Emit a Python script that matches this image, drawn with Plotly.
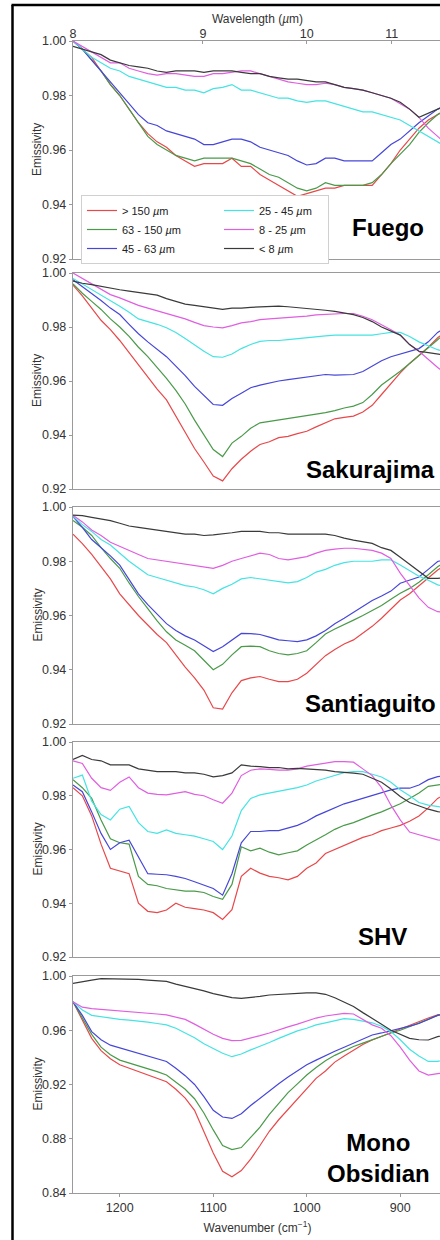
import plotly.graph_objects as go

# ---------------- data ----------------
wavenumber = [1250, 1240, 1230, 1220, 1210, 1200, 1190, 1180, 1170, 1160, 1150,
              1140, 1130, 1120, 1110, 1100, 1090, 1080, 1070, 1060, 1050,
              1040, 1030, 1020, 1010, 1000, 990, 980, 970, 960, 950,
              940, 930, 920, 910, 900, 890, 880, 870, 860, 850]
wavelength_ticks = [8, 9, 10, 11]

size_labels = ["&gt; 150 <i>µ</i>m", "63 - 150 <i>µ</i>m", "45 - 63 <i>µ</i>m",
               "25 - 45 <i>µ</i>m", "8 - 25 <i>µ</i>m", "&lt; 8 <i>µ</i>m"]
legend_ranks = [1, 3, 5, 2, 4, 6]
panel_names = ["Fuego", "Sakurajima", "Santiaguito", "SHV", "Mono<br>Obsidian"]

fuego_gt150 = [1.000, 0.997, 0.994, 0.989, 0.984, 0.980, 0.975, 0.970, 0.966, 0.963, 0.961,
               0.958, 0.956, 0.954, 0.955, 0.955, 0.955, 0.957, 0.954, 0.954, 0.951,
               0.949, 0.947, 0.945, 0.943, 0.944, 0.945, 0.946, 0.946, 0.947, 0.947,
               0.947, 0.947, 0.951, 0.955, 0.960, 0.964, 0.968, 0.971, 0.973, 0.975]
fuego_63_150 = [1.000, 0.997, 0.993, 0.989, 0.984, 0.980, 0.975, 0.970, 0.965, 0.962, 0.960,
                0.958, 0.957, 0.956, 0.957, 0.957, 0.957, 0.957, 0.956, 0.955, 0.953,
                0.951, 0.950, 0.948, 0.946, 0.945, 0.946, 0.948, 0.947, 0.947, 0.947,
                0.947, 0.948, 0.951, 0.955, 0.9585, 0.962, 0.9665, 0.970, 0.973, 0.975]
fuego_45_63 = [1.000, 0.997, 0.993, 0.989, 0.985, 0.981, 0.977, 0.973, 0.970, 0.969, 0.967,
               0.966, 0.965, 0.964, 0.962, 0.962, 0.963, 0.964, 0.964, 0.963, 0.961,
               0.960, 0.959, 0.958, 0.956, 0.9545, 0.955, 0.957, 0.957, 0.956, 0.956,
               0.956, 0.956, 0.959, 0.962, 0.964, 0.967, 0.970, 0.9725, 0.975, 0.977]
fuego_25_45 = [1.000, 0.997, 0.994, 0.992, 0.990, 0.989, 0.987, 0.986, 0.985, 0.984, 0.983,
               0.983, 0.982, 0.982, 0.981, 0.9825, 0.983, 0.984, 0.982, 0.982, 0.981,
               0.980, 0.979, 0.979, 0.978, 0.9775, 0.978, 0.978, 0.977, 0.976, 0.975,
               0.974, 0.974, 0.973, 0.972, 0.971, 0.969, 0.967, 0.965, 0.963, 0.961]
fuego_8_25 = [1.000, 0.998, 0.996, 0.994, 0.992, 0.992, 0.990, 0.989, 0.988, 0.9875, 0.988,
              0.988, 0.9875, 0.987, 0.987, 0.988, 0.988, 0.9885, 0.989, 0.989, 0.988,
              0.987, 0.986, 0.985, 0.9845, 0.984, 0.984, 0.9845, 0.984, 0.983, 0.9825,
              0.982, 0.981, 0.980, 0.979, 0.977, 0.975, 0.972, 0.968, 0.965, 0.962]
fuego_lt8 = [0.998, 0.997, 0.996, 0.995, 0.993, 0.992, 0.991, 0.9905, 0.990, 0.989, 0.9885,
             0.989, 0.989, 0.989, 0.9885, 0.989, 0.989, 0.989, 0.9885, 0.988, 0.988,
             0.987, 0.9865, 0.986, 0.986, 0.9855, 0.985, 0.985, 0.984, 0.983, 0.9825,
             0.982, 0.981, 0.980, 0.979, 0.9775, 0.975, 0.972, 0.9735, 0.975, 0.976]

sakura_gt150 = [0.9955, 0.9915, 0.987, 0.9825, 0.979, 0.975, 0.9705, 0.966, 0.9615, 0.957, 0.953,
                0.947, 0.9415, 0.935, 0.930, 0.9248, 0.923, 0.9275, 0.931, 0.934, 0.9365,
                0.9375, 0.939, 0.9395, 0.9405, 0.9414, 0.943, 0.9445, 0.946, 0.9465, 0.947,
                0.9485, 0.951, 0.955, 0.959, 0.963, 0.9665, 0.9695, 0.9725, 0.976, 0.9785]
sakura_63_150 = [0.996, 0.9925, 0.9895, 0.9865, 0.983, 0.980, 0.9765, 0.9725, 0.969, 0.965, 0.961,
                 0.9565, 0.9515, 0.9455, 0.940, 0.9346, 0.932, 0.937, 0.9395, 0.9425, 0.9445,
                 0.945, 0.9455, 0.946, 0.9465, 0.947, 0.9477, 0.9483, 0.949, 0.950, 0.9507,
                 0.952, 0.955, 0.9585, 0.961, 0.9636, 0.9665, 0.9695, 0.9725, 0.9753, 0.978]
sakura_45_63 = [0.9975, 0.995, 0.9925, 0.9898, 0.987, 0.9846, 0.981, 0.9775, 0.9745, 0.9718, 0.969,
                0.9655, 0.962, 0.958, 0.9545, 0.9513, 0.951, 0.9535, 0.9555, 0.9575, 0.9585,
                0.9593, 0.960, 0.9605, 0.961, 0.9615, 0.962, 0.9624, 0.9622, 0.9624, 0.9624,
                0.9635, 0.9655, 0.9675, 0.969, 0.970, 0.971, 0.972, 0.9745, 0.978, 0.980]
sakura_25_45 = [0.998, 0.996, 0.994, 0.992, 0.990, 0.9877, 0.9855, 0.983, 0.982, 0.981, 0.9797,
                0.978, 0.9757, 0.9733, 0.971, 0.969, 0.9688, 0.970, 0.972, 0.9735, 0.9747,
                0.975, 0.975, 0.9753, 0.9757, 0.976, 0.9765, 0.9767, 0.977, 0.977, 0.977,
                0.977, 0.977, 0.9775, 0.978, 0.978, 0.9765, 0.9745, 0.973, 0.9716, 0.9705]
sakura_8_25 = [1.000, 0.998, 0.996, 0.9938, 0.992, 0.9908, 0.9895, 0.988, 0.987, 0.986, 0.985,
               0.984, 0.983, 0.9817, 0.9805, 0.980, 0.9797, 0.9805, 0.9815, 0.982, 0.9827,
               0.983, 0.9832, 0.9834, 0.9838, 0.984, 0.9845, 0.9847, 0.9848, 0.985, 0.985,
               0.984, 0.9827, 0.981, 0.979, 0.977, 0.9735, 0.971, 0.968, 0.965, 0.9625]
sakura_lt8 = [0.997, 0.9962, 0.9957, 0.995, 0.9945, 0.9938, 0.9933, 0.9928, 0.9925, 0.9918, 0.9905,
              0.9895, 0.9885, 0.988, 0.9875, 0.987, 0.9865, 0.987, 0.987, 0.9873, 0.9875,
              0.9877, 0.9877, 0.9875, 0.9872, 0.987, 0.9866, 0.9862, 0.9858, 0.9852, 0.9846,
              0.9835, 0.982, 0.980, 0.9785, 0.977, 0.9735, 0.971, 0.9705, 0.970, 0.9695]

santi_gt150 = [0.990, 0.9865, 0.9825, 0.978, 0.9735, 0.968, 0.964, 0.960, 0.9565, 0.953, 0.950,
               0.9455, 0.941, 0.937, 0.9325, 0.926, 0.9255, 0.9315, 0.936, 0.937, 0.9375,
               0.9365, 0.9356, 0.9356, 0.9365, 0.9387, 0.942, 0.9452, 0.9475, 0.9495, 0.951,
               0.9535, 0.956, 0.959, 0.9625, 0.9657, 0.968, 0.971, 0.974, 0.9768, 0.979]
santi_63_150 = [0.995, 0.9925, 0.9895, 0.985, 0.981, 0.9774, 0.972, 0.967, 0.9625, 0.958, 0.954,
                0.951, 0.949, 0.947, 0.9435, 0.940, 0.942, 0.9455, 0.9485, 0.9487, 0.9485,
                0.947, 0.946, 0.9455, 0.946, 0.947, 0.950, 0.9532, 0.955, 0.9568, 0.9583,
                0.960, 0.9617, 0.9637, 0.966, 0.9682, 0.970, 0.9723, 0.975, 0.978, 0.980]
santi_45_63 = [0.9965, 0.9925, 0.988, 0.985, 0.982, 0.9786, 0.9735, 0.968, 0.964, 0.9605, 0.957,
               0.9545, 0.9525, 0.951, 0.9487, 0.9467, 0.9485, 0.951, 0.9534, 0.9533, 0.953,
               0.952, 0.951, 0.9507, 0.9504, 0.951, 0.9525, 0.9545, 0.957, 0.959, 0.9612,
               0.9635, 0.9655, 0.9672, 0.969, 0.9719, 0.973, 0.9742, 0.977, 0.9799, 0.981]
santi_25_45 = [0.9965, 0.9935, 0.991, 0.988, 0.986, 0.983, 0.980, 0.9775, 0.975, 0.974, 0.973,
               0.972, 0.971, 0.9705, 0.9695, 0.968, 0.970, 0.9715, 0.9735, 0.974, 0.9735,
               0.973, 0.9725, 0.972, 0.9725, 0.974, 0.976, 0.977, 0.9785, 0.9795, 0.980,
               0.980, 0.980, 0.9805, 0.9805, 0.9786, 0.9765, 0.9745, 0.973, 0.9713, 0.9705]
santi_8_25 = [0.997, 0.9945, 0.9915, 0.9895, 0.987, 0.9854, 0.984, 0.9825, 0.981, 0.9805, 0.980,
              0.9795, 0.979, 0.9786, 0.978, 0.9774, 0.9785, 0.980, 0.981, 0.982, 0.983,
              0.9825, 0.981, 0.9805, 0.981, 0.9817, 0.983, 0.984, 0.9845, 0.9848, 0.9848,
              0.9845, 0.984, 0.983, 0.981, 0.9756, 0.971, 0.9665, 0.963, 0.9614, 0.961]
santi_lt8 = [0.997, 0.9968, 0.9962, 0.9955, 0.995, 0.994, 0.993, 0.9925, 0.992, 0.9915, 0.991,
             0.9905, 0.990, 0.990, 0.9895, 0.9897, 0.990, 0.9905, 0.991, 0.991, 0.991,
             0.9905, 0.9905, 0.990, 0.990, 0.990, 0.9902, 0.990, 0.9895, 0.9885, 0.9878,
             0.9872, 0.9866, 0.985, 0.984, 0.9815, 0.979, 0.9765, 0.9737, 0.9737, 0.974]

shv_gt150 = [0.983, 0.980, 0.9725, 0.962, 0.953, 0.952, 0.951, 0.940, 0.937, 0.9365, 0.9375,
             0.940, 0.9385, 0.938, 0.9375, 0.9365, 0.934, 0.9376, 0.950, 0.953, 0.9512,
             0.950, 0.9495, 0.9487, 0.950, 0.953, 0.955, 0.9585, 0.960, 0.9615, 0.963,
             0.9645, 0.9655, 0.967, 0.968, 0.969, 0.9705, 0.9725, 0.9755, 0.979, 0.981]
shv_63_150 = [0.986, 0.983, 0.979, 0.971, 0.964, 0.9625, 0.962, 0.950, 0.947, 0.9465, 0.9455,
              0.945, 0.9445, 0.9445, 0.944, 0.9425, 0.9415, 0.947, 0.961, 0.9595, 0.9605,
              0.959, 0.958, 0.9588, 0.9595, 0.9617, 0.9635, 0.9655, 0.9675, 0.969, 0.970,
              0.9715, 0.9728, 0.974, 0.9755, 0.977, 0.979, 0.981, 0.9835, 0.984, 0.9845]
shv_45_63 = [0.984, 0.9815, 0.974, 0.966, 0.960, 0.9625, 0.9635, 0.957, 0.951, 0.9508, 0.9506,
             0.950, 0.9492, 0.948, 0.9468, 0.9455, 0.943, 0.951, 0.9625, 0.9667, 0.9667,
             0.967, 0.967, 0.968, 0.969, 0.9705, 0.9725, 0.974, 0.9755, 0.977, 0.978,
             0.979, 0.980, 0.981, 0.9822, 0.9828, 0.9828, 0.984, 0.986, 0.9871, 0.9875]
shv_25_45 = [0.9865, 0.9877, 0.978, 0.973, 0.971, 0.975, 0.976, 0.970, 0.9667, 0.966, 0.9673,
             0.966, 0.9655, 0.965, 0.964, 0.963, 0.960, 0.965, 0.9745, 0.979, 0.9803,
             0.981, 0.9815, 0.9822, 0.983, 0.984, 0.9855, 0.9865, 0.9875, 0.9886, 0.989,
             0.989, 0.988, 0.987, 0.985, 0.9822, 0.980, 0.9775, 0.9765, 0.976, 0.9755]
shv_8_25 = [0.993, 0.992, 0.9865, 0.983, 0.982, 0.985, 0.987, 0.983, 0.981, 0.9805, 0.9803,
            0.981, 0.9815, 0.9805, 0.980, 0.9785, 0.9772, 0.981, 0.9875, 0.9895, 0.990,
            0.9898, 0.9895, 0.9895, 0.990, 0.991, 0.9915, 0.992, 0.9927, 0.9927, 0.9925,
            0.990, 0.9875, 0.983, 0.9765, 0.971, 0.9665, 0.9655, 0.9645, 0.9636, 0.963]
shv_lt8 = [0.9935, 0.995, 0.9935, 0.993, 0.9915, 0.9915, 0.9915, 0.990, 0.9895, 0.989, 0.989,
           0.989, 0.9885, 0.9885, 0.988, 0.987, 0.9875, 0.9885, 0.9915, 0.991, 0.9908,
           0.9905, 0.9905, 0.990, 0.9902, 0.990, 0.9897, 0.9895, 0.989, 0.9888, 0.9884,
           0.988, 0.9865, 0.985, 0.9825, 0.9797, 0.9775, 0.9762, 0.975, 0.9741, 0.9735]

mono_gt150 = [0.981, 0.968, 0.954, 0.945, 0.939, 0.9345, 0.932, 0.9295, 0.927, 0.925, 0.922,
              0.9165, 0.910, 0.901, 0.8855, 0.8695, 0.856, 0.852, 0.8565, 0.865, 0.875,
              0.8855, 0.894, 0.9015, 0.909, 0.9165, 0.9245, 0.930, 0.9365, 0.941, 0.9455,
              0.9495, 0.9528, 0.9555, 0.9582, 0.961, 0.964, 0.9665, 0.969, 0.9713, 0.973]
mono_63_150 = [0.981, 0.969, 0.957, 0.9475, 0.942, 0.938, 0.936, 0.934, 0.932, 0.9295, 0.927,
               0.9215, 0.9165, 0.9095, 0.899, 0.8865, 0.875, 0.872, 0.8735, 0.881, 0.8885,
               0.898, 0.906, 0.914, 0.9205, 0.927, 0.9325, 0.9375, 0.9415, 0.945, 0.948,
               0.9505, 0.953, 0.956, 0.958, 0.960, 0.9625, 0.965, 0.968, 0.971, 0.9725]
mono_45_63 = [0.981, 0.971, 0.959, 0.953, 0.949, 0.947, 0.945, 0.9435, 0.9415, 0.9395, 0.937,
              0.932, 0.9265, 0.920, 0.911, 0.901, 0.896, 0.895, 0.8985, 0.9045, 0.910,
              0.915, 0.9205, 0.9255, 0.930, 0.9345, 0.938, 0.9415, 0.9445, 0.9475, 0.9505,
              0.9535, 0.9565, 0.958, 0.9595, 0.961, 0.963, 0.965, 0.968, 0.971, 0.9725]
mono_25_45 = [0.981, 0.975, 0.971, 0.970, 0.9685, 0.968, 0.9675, 0.967, 0.966, 0.965, 0.964,
              0.9615, 0.958, 0.9545, 0.950, 0.9465, 0.943, 0.9405, 0.9425, 0.9455, 0.948,
              0.951, 0.954, 0.957, 0.9595, 0.9615, 0.964, 0.9655, 0.967, 0.9685, 0.968,
              0.967, 0.9655, 0.963, 0.959, 0.953, 0.946, 0.941, 0.937, 0.937, 0.939]
mono_8_25 = [0.981, 0.977, 0.976, 0.9755, 0.975, 0.974, 0.9735, 0.973, 0.9725, 0.972, 0.9713,
             0.9695, 0.968, 0.9645, 0.9605, 0.957, 0.954, 0.9523, 0.9525, 0.954, 0.956,
             0.958, 0.9605, 0.9625, 0.9645, 0.967, 0.969, 0.9705, 0.9715, 0.9725, 0.972,
             0.968, 0.964, 0.9615, 0.956, 0.9475, 0.938, 0.930, 0.927, 0.928, 0.929]
mono_lt8 = [0.9945, 0.996, 0.997, 0.998, 0.998, 0.998, 0.998, 0.9975, 0.997, 0.9965, 0.996,
            0.994, 0.9925, 0.991, 0.989, 0.987, 0.9855, 0.984, 0.9835, 0.984, 0.985,
            0.986, 0.9865, 0.987, 0.9872, 0.9875, 0.9875, 0.9865, 0.984, 0.981, 0.9775,
            0.973, 0.969, 0.9645, 0.960, 0.957, 0.954, 0.953, 0.9528, 0.9553, 0.957]

panels = [
    [fuego_gt150, fuego_63_150, fuego_45_63, fuego_25_45, fuego_8_25, fuego_lt8],
    [sakura_gt150, sakura_63_150, sakura_45_63, sakura_25_45, sakura_8_25, sakura_lt8],
    [santi_gt150, santi_63_150, santi_45_63, santi_25_45, santi_8_25, santi_lt8],
    [shv_gt150, shv_63_150, shv_45_63, shv_25_45, shv_8_25, shv_lt8],
    [mono_gt150, mono_63_150, mono_45_63, mono_25_45, mono_8_25, mono_lt8],
]
y_ranges = [[0.92, 1.00], [0.92, 1.00], [0.92, 1.00], [0.92, 1.00], [0.84, 1.00]]
y_dticks = [0.02, 0.02, 0.02, 0.02, 0.04]
x_bottom_ticks = [1200, 1100, 1000, 900]

# ---------------- styling / layout ----------------
colors = ["#e8484a", "#4a9a4a", "#4646d8", "#45e3e3", "#e05ee0", "#3a3a3a"]
legend_widths = [92, 92, 92, 64, 64, 64]
FONT = "Liberation Sans, Arial, sans-serif"
AXIS_COLOR = "#9a9a9a"
TEXT_COLOR = "#333333"

W, H = 442, 1240                 # 2 px wider than the window: right edge is cropped
ML, MR, MT, MB = 73, 0, 41, 47
PX_PER_WN = 0.935               # horizontal scale of the reference (px per cm-1)
X_RANGE = [1250, 1250 - (W - ML - MR) / PX_PER_WN]


def px_x(px):
    return (px - ML) / (W - ML - MR)


def px_y(py):
    return (H - MB - py) / (H - MT - MB)


panel_px = [(41, 259), (273, 489), (507, 724), (742, 957), (976, 1193)]
label_px = [(388, 228), (370, 469), (370, 704), (382, 936), (378, 1158)]

fig = go.Figure()

for i, series in enumerate(panels):
    xa = "x" if i == 0 else f"x{i + 1}"
    ya = "y" if i == 0 else f"y{i + 1}"
    for j, ys in enumerate(series):
        fig.add_trace(go.Scatter(
            x=wavenumber, y=ys, mode="lines",
            line=dict(color=colors[j], width=1.2),
            name=size_labels[j], legendrank=legend_ranks[j],
            legendwidth=legend_widths[j],
            showlegend=(i == 0), xaxis=xa, yaxis=ya, hoverinfo="skip",
        ))

# helper trace so the top wavelength axis is drawn
fig.add_trace(go.Scatter(
    x=[1e4 / w for w in wavelength_ticks], y=[None] * len(wavelength_ticks),
    mode="lines", xaxis="x6", yaxis="y", showlegend=False, hoverinfo="skip",
))

layout = dict(
    width=W, height=H,
    margin=dict(l=ML, r=MR, t=MT, b=MB, pad=0),
    paper_bgcolor="white", plot_bgcolor="white",
    font=dict(family=FONT, size=12, color=TEXT_COLOR),
    showlegend=True,
    legend=dict(
        x=px_x(81), y=px_y(195), xanchor="left", yanchor="top",
        orientation="h", entrywidthmode="pixels",
        bgcolor="white", bordercolor="#d0d0d0", borderwidth=1,
        font=dict(family=FONT, size=11, color="#222"),
        traceorder="normal", itemwidth=30,
    ),
)

annotations = []
for i in range(5):
    top, bot = panel_px[i]
    xkey = "xaxis" if i == 0 else f"xaxis{i + 1}"
    ykey = "yaxis" if i == 0 else f"yaxis{i + 1}"
    ya = "y" if i == 0 else f"y{i + 1}"
    xa = "x" if i == 0 else f"x{i + 1}"
    last = (i == 4)
    xaxis = dict(
        domain=[0, 1], anchor=ya, range=X_RANGE, autorange=False,
        showline=True, linecolor=AXIS_COLOR, linewidth=1.2, mirror=True,
        showgrid=False, zeroline=False,
        showticklabels=last, ticks="outside" if last else "",
        ticklen=3, tickcolor=AXIS_COLOR,
        tickvals=x_bottom_ticks if last else None,
        tickfont=dict(size=12.5, color=TEXT_COLOR),
    )
    if last:
        xaxis["title"] = dict(text="Wavenumber (cm<sup>−1</sup>)", standoff=9,
                              font=dict(size=12, color=TEXT_COLOR))
    if i > 0:
        xaxis["matches"] = "x"
    layout[xkey] = xaxis
    layout[ykey] = dict(
        domain=[px_y(bot), px_y(top)], anchor=xa,
        range=y_ranges[i], autorange=False, dtick=y_dticks[i], tick0=0,
        tickformat=".2f", showline=True, linecolor=AXIS_COLOR, linewidth=1.2,
        mirror=False, showgrid=False, zeroline=False,
        ticks="outside", ticklen=3, tickcolor=AXIS_COLOR,
        tickfont=dict(size=12.5, color=TEXT_COLOR),
    )
    # y-axis title placed as a rotated annotation
    annotations.append(dict(
        text="Emissivity", xref="paper", yref="paper",
        x=px_x(37), y=px_y((top + bot) / 2), xanchor="center", yanchor="middle",
        textangle=-90, showarrow=False,
        font=dict(family=FONT, size=12, color=TEXT_COLOR),
    ))

layout["xaxis6"] = dict(
    overlaying="x", side="top", anchor="y", range=X_RANGE, autorange=False,
    tickvals=[1e4 / w for w in wavelength_ticks],
    ticktext=[str(w) for w in wavelength_ticks],
    ticks="inside", ticklen=3, tickcolor=AXIS_COLOR,
    showline=False, showgrid=False, zeroline=False,
    tickfont=dict(size=12.5, color=TEXT_COLOR),
    title=dict(text="Wavelength (<i>µ</i>m)", standoff=0,
               font=dict(size=12, color=TEXT_COLOR)),
)

for name, (lx, ly) in zip(panel_names, label_px):
    annotations.append(dict(
        text=f"<b>{name}</b>", xref="paper", yref="paper",
        x=px_x(lx), y=px_y(ly), xanchor="center", yanchor="middle",
        showarrow=False, font=dict(family=FONT, size=24, color="black"),
    ))
layout["annotations"] = annotations

# outer black frame (left and top edges visible in the crop)
layout["shapes"] = [
    dict(type="line", xref="paper", yref="paper",
         x0=px_x(12.5), x1=px_x(12.5), y0=px_y(5), y1=px_y(1260),
         line=dict(color="black", width=2.5)),
    dict(type="line", xref="paper", yref="paper",
         x0=px_x(11.5), x1=px_x(W + 20), y0=px_y(5), y1=px_y(5),
         line=dict(color="black", width=2.5)),
]

fig.update_layout(**layout)

fig.write_html(
    "out.html",
    config={"displayModeBar": False, "staticPlot": True},
    post_script=("document.body.style.margin='0';"
                 "document.body.style.overflow='hidden';"
                 "document.documentElement.style.overflow='hidden';"),
)
